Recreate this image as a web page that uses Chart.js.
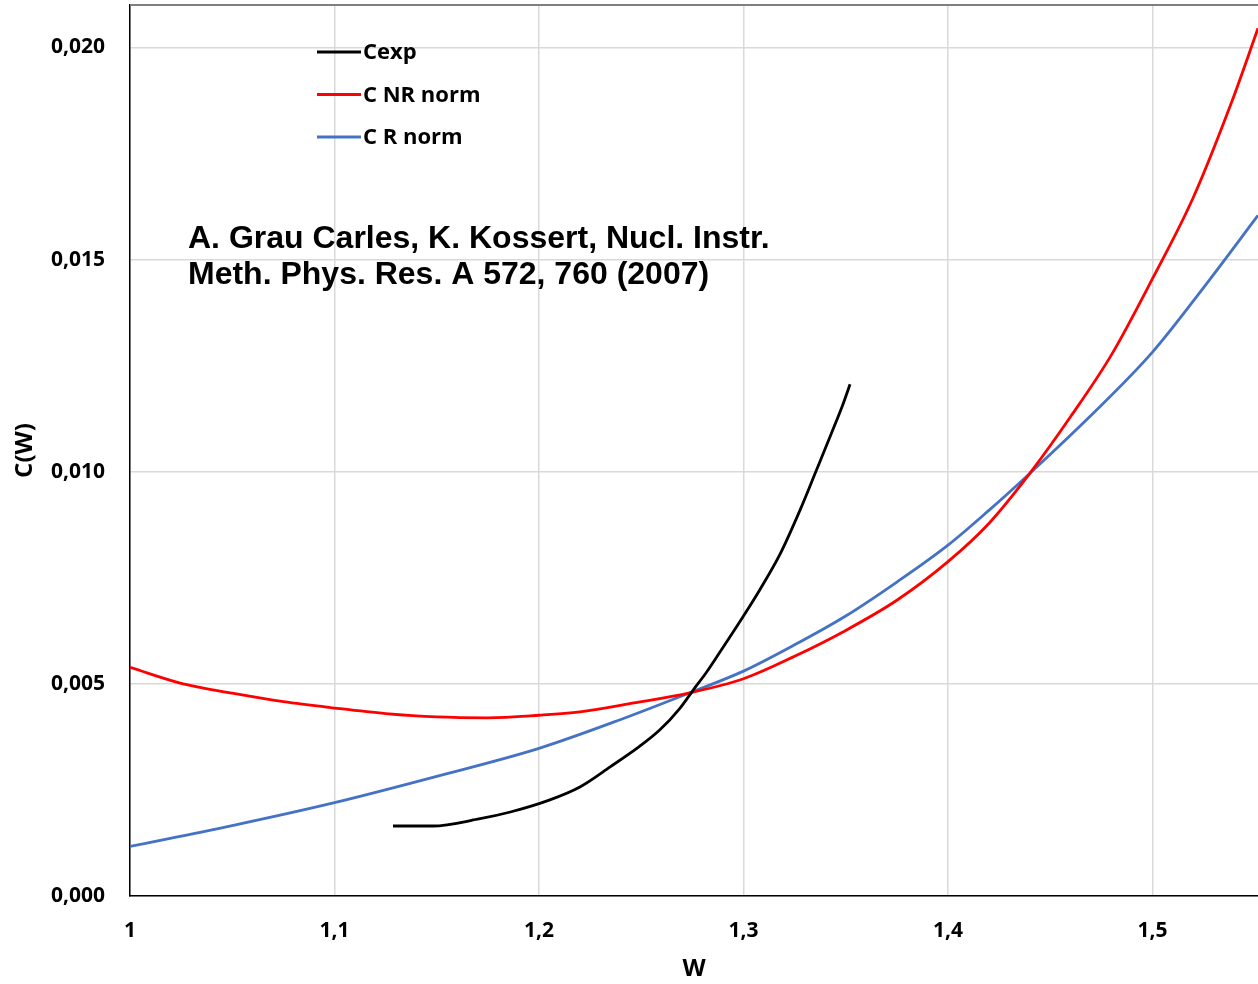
<!DOCTYPE html>
<html>
<head>
<meta charset="utf-8">
<script src="https://cdn.jsdelivr.net/npm/chart.js@4.4.1/dist/chart.umd.min.js"></script>
<style>
  html, body { margin: 0; padding: 0; background: #ffffff; }
  #wrap { width: 1258px; height: 984px; }
</style>
</head>
<body>
<div id="wrap"><canvas id="c" width="1258" height="984"></canvas></div>
<script>
// Experimental shape factor C(W)
const expW = [1.1286, 1.148, 1.17, 1.186, 1.205, 1.22, 1.235, 1.249, 1.259, 1.269, 1.2755, 1.282,
              1.2885, 1.30, 1.308, 1.318, 1.3276, 1.3357, 1.3438, 1.3488, 1.3521];
const expC = [0.00165, 0.00165, 0.00181, 0.00198, 0.00226, 0.00257, 0.00305, 0.00352, 0.00391, 0.00443, 0.00486, 0.00528,
              0.00575, 0.00660, 0.00722, 0.00807, 0.00909, 0.01004, 0.01100, 0.01161, 0.01206];

// Non-relativistic shape factor, normalised
const nrW = [1.00, 1.026, 1.05, 1.075, 1.10, 1.125, 1.15, 1.175, 1.20, 1.22, 1.245, 1.2738,
             1.30, 1.325, 1.35, 1.375, 1.40, 1.42, 1.44, 1.46, 1.48, 1.50, 1.52, 1.539, 1.5516];
const nrC = [0.00539, 0.00500, 0.00478, 0.00458, 0.00443, 0.00430, 0.00422, 0.00420, 0.00426, 0.00434, 0.00454, 0.00479,
             0.00512, 0.00565, 0.00626, 0.00697, 0.00788, 0.00878, 0.00996, 0.01130, 0.01276, 0.01455, 0.01647, 0.01875, 0.02045];

// Relativistic shape factor, normalised
const rW = [1.00, 1.05, 1.10, 1.15, 1.20, 1.24, 1.2738, 1.30, 1.325, 1.35, 1.375, 1.40,
            1.42, 1.44, 1.47, 1.50, 1.525, 1.5516];
const rC = [0.00117, 0.00166, 0.00220, 0.00282, 0.00348, 0.00416, 0.00479, 0.00530, 0.00592, 0.00660, 0.00740, 0.00827,
            0.00909, 0.00996, 0.01133, 0.01282, 0.01434, 0.01604];

const seriesNames = ['Cexp', 'C NR norm', 'C R norm'];
const xTicks = [1, 1.1, 1.2, 1.3, 1.4, 1.5];
const yTicks = [0, 0.005, 0.010, 0.015, 0.020];
const xTitle = 'W';
const yTitle = 'C(W)';
const noteLines = ['A. Grau Carles, K. Kossert, Nucl. Instr.', 'Meth. Phys. Res. A 572, 760 (2007)'];

const toPoints = (xs, ys) => xs.map((x, i) => ({ x: x, y: ys[i] }));
const colors = ['#000000', '#ff0000', '#4472c4'];
const tickFont = { family: '"Open Sans", "Noto Sans", sans-serif', size: 21, weight: 'bold' };
const titleFont = { family: '"Open Sans", "Noto Sans", sans-serif', size: 24, weight: 'bold' };

// Legend drawn inside the plot area, plus the reference note and the frame top edge
const overlay = {
  id: 'overlay',
  afterDraw(chart) {
    const ctx = chart.ctx;
    const a = chart.chartArea;
    ctx.save();
    // top edge of the plot frame
    ctx.strokeStyle = '#7f7f7f';
    ctx.lineWidth = 2;
    ctx.beginPath();
    ctx.moveTo(a.left, a.top);
    ctx.lineTo(a.right, a.top);
    ctx.stroke();

    // legend
    ctx.font = 'bold 22px "Open Sans", "Noto Sans", sans-serif';
    ctx.textBaseline = 'middle';
    ctx.textAlign = 'left';
    chart.data.datasets.forEach((ds, i) => {
      const y = a.top + 47 + i * 42.5;
      ctx.strokeStyle = ds.borderColor;
      ctx.lineWidth = 3;
      ctx.beginPath();
      ctx.moveTo(a.left + 187, y);
      ctx.lineTo(a.left + 231, y);
      ctx.stroke();
      ctx.fillStyle = '#000000';
      ctx.fillText(ds.label, a.left + 233, y + 1);
    });

    // reference note
    ctx.font = 'bold 32px "Liberation Sans", Arial, sans-serif';
    ctx.textBaseline = 'alphabetic';
    ctx.fillStyle = '#000000';
    noteLines.forEach((t, i) => ctx.fillText(t, a.left + 58, a.top + 243 + i * 35.5));
    ctx.restore();
  }
};

new Chart(document.getElementById('c'), {
  type: 'line',
  data: {
    datasets: [
      { label: seriesNames[0], data: toPoints(expW, expC), borderColor: colors[0] },
      { label: seriesNames[1], data: toPoints(nrW, nrC), borderColor: colors[1] },
      { label: seriesNames[2], data: toPoints(rW, rC), borderColor: colors[2] }
    ].map(d => Object.assign(d, {
      borderWidth: 2.8, pointRadius: 0, fill: false, cubicInterpolationMode: 'monotone'
    }))
  },
  options: {
    responsive: false,
    devicePixelRatio: 1,
    animation: false,
    layout: { padding: { top: 5, right: 0, left: 0, bottom: 0 } },
    plugins: { legend: { display: false }, tooltip: { enabled: false } },
    scales: {
      x: {
        type: 'linear',
        min: 1,
        max: 1.5516,
        afterBuildTicks: s => { s.ticks = xTicks.map(v => ({ value: v })); },
        afterFit: s => { s.height = 88; s.paddingLeft = 0; s.paddingRight = 0; },
        ticks: {
          padding: 22, color: '#000000', font: tickFont, maxRotation: 0,
          callback: v => String(Math.round(v * 10) / 10).replace('.', ',')
        },
        grid: { color: '#d9d9d9', lineWidth: 1.5, drawTicks: false },
        border: { color: '#000000', width: 1.5 },
        title: { display: true, text: xTitle, color: '#000000', font: titleFont, padding: { top: 0, bottom: 0 } }
      },
      y: {
        type: 'linear',
        min: 0,
        max: 0.021,
        afterBuildTicks: s => { s.ticks = yTicks.map(v => ({ value: v })); },
        afterFit: s => { s.width = 130; s.paddingTop = 0; s.paddingBottom = 0; },
        ticks: {
          padding: 25, color: '#000000', font: tickFont,
          callback: v => v.toFixed(3).replace('.', ',')
        },
        grid: { color: '#d9d9d9', lineWidth: 1.5, drawTicks: false },
        border: { color: '#000000', width: 1.5 },
        title: { display: true, text: yTitle, color: '#000000', font: titleFont, padding: { top: 11, bottom: 0 } }
      }
    }
  },
  plugins: [overlay]
});
</script>
</body>
</html>
